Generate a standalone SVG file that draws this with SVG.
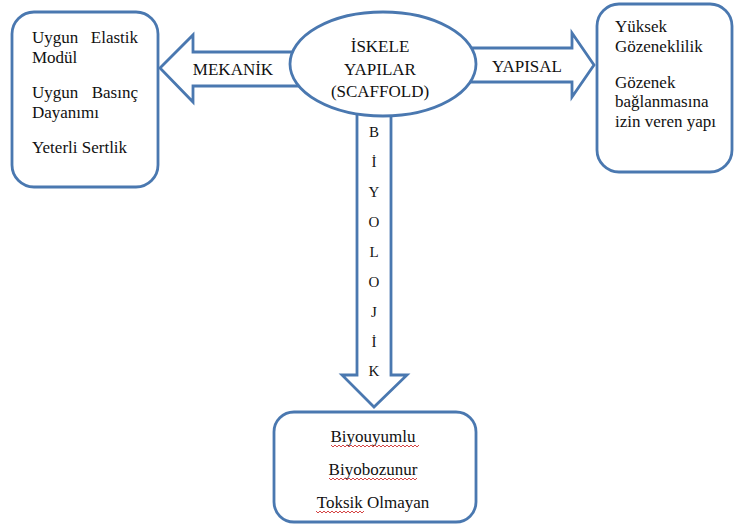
<svg xmlns="http://www.w3.org/2000/svg" width="734" height="526" viewBox="0 0 734 526">
<style>
.shape{fill:#fff;stroke:#4a78b0;stroke-width:2.8;stroke-linejoin:miter}
.t{font-family:'Liberation Serif',serif;font-size:17px;fill:#111}
.c{text-anchor:middle}
.e{text-anchor:end}
.v{font-size:15px}
.sq{fill:none;stroke:#d03030;stroke-width:0.9}
</style>
<g id="connectors">
<polygon id="arrow-mekanik" class="shape" points="160,68 193,35 193,52 300,52 300,86 193,86 193,102"/>
<polygon id="arrow-yapisal" class="shape" points="465,48 572,48 572,33 594,65 572,97 572,82 465,82"/>
<polygon id="arrow-biyolojik" class="shape" points="357,105 391,105 391,375 407,375 374,407 342,375 357,375"/>
<text class="t c" x="233" y="75">MEKANİK</text>
<text class="t c" x="527" y="72">YAPISAL</text>
<g class="t c v">
<text x="374" y="137">B</text>
<text x="374" y="167">İ</text>
<text x="374" y="197">Y</text>
<text x="374" y="227">O</text>
<text x="374" y="257">L</text>
<text x="374" y="287">O</text>
<text x="374" y="317">J</text>
<text x="374" y="347">İ</text>
<text x="374" y="376">K</text>
</g>
</g>
<g id="center">
<ellipse class="shape" cx="383" cy="64" rx="93" ry="52"/>
<text class="t c" x="380" y="52">İSKELE</text>
<text class="t c" x="380" y="75">YAPILAR</text>
<text class="t c" x="380" y="97">(SCAFFOLD)</text>
</g>
<g id="mekanik-box">
<rect class="shape" x="12" y="12" width="146" height="175" rx="22"/>
<text class="t" x="32" y="43">Uygun</text>
<text class="t e" x="138" y="43">Elastik</text>
<text class="t" x="32" y="63">Modül</text>
<text class="t" x="32" y="98">Uygun</text>
<text class="t e" x="138" y="98">Basınç</text>
<text class="t" x="32" y="118">Dayanımı</text>
<text class="t" x="32" y="153">Yeterli Sertlik</text>
</g>
<g id="yapisal-box">
<rect class="shape" x="597" y="4" width="135" height="168" rx="22"/>
<text class="t" x="615" y="32">Yüksek</text>
<text class="t" x="615" y="52">Gözeneklilik</text>
<text class="t" x="615" y="88">Gözenek</text>
<text class="t" x="615" y="107">bağlanmasına</text>
<text class="t" x="615" y="127">izin veren yapı</text>
</g>
<g id="biyolojik-box">
<rect class="shape" x="274" y="412" width="202" height="110" rx="20"/>
<text class="t c" x="373" y="442">Biyouyumlu</text>
<text class="t c" x="373" y="475">Biyobozunur</text>
<text class="t c" x="373" y="508">Toksik Olmayan</text>
<path class="sq" d="M331,445 l2,2 l2,-2 l2,2 l2,-2 l2,2 l2,-2 l2,2 l2,-2 l2,2 l2,-2 l2,2 l2,-2 l2,2 l2,-2 l2,2 l2,-2 l2,2 l2,-2 l2,2 l2,-2 l2,2 l2,-2 l2,2 l2,-2 l2,2 l2,-2 l2,2 l2,-2 l2,2 l2,-2 l2,2 l2,-2 l2,2 l2,-2 l2,2 l2,-2 l2,2 l2,-2 l2,2 l2,-2 l2,2 l2,-2 l2,2 l2,-2"/>
<path class="sq" d="M329,478 l2,2 l2,-2 l2,2 l2,-2 l2,2 l2,-2 l2,2 l2,-2 l2,2 l2,-2 l2,2 l2,-2 l2,2 l2,-2 l2,2 l2,-2 l2,2 l2,-2 l2,2 l2,-2 l2,2 l2,-2 l2,2 l2,-2 l2,2 l2,-2 l2,2 l2,-2 l2,2 l2,-2 l2,2 l2,-2 l2,2 l2,-2 l2,2 l2,-2 l2,2 l2,-2 l2,2 l2,-2 l2,2 l2,-2 l2,2 l2,-2"/>
<path class="sq" d="M316,511 l2,2 l2,-2 l2,2 l2,-2 l2,2 l2,-2 l2,2 l2,-2 l2,2 l2,-2 l2,2 l2,-2 l2,2 l2,-2 l2,2 l2,-2 l2,2 l2,-2 l2,2 l2,-2 l2,2 l2,-2 l2,2 l2,-2"/>
</g>
</svg>
